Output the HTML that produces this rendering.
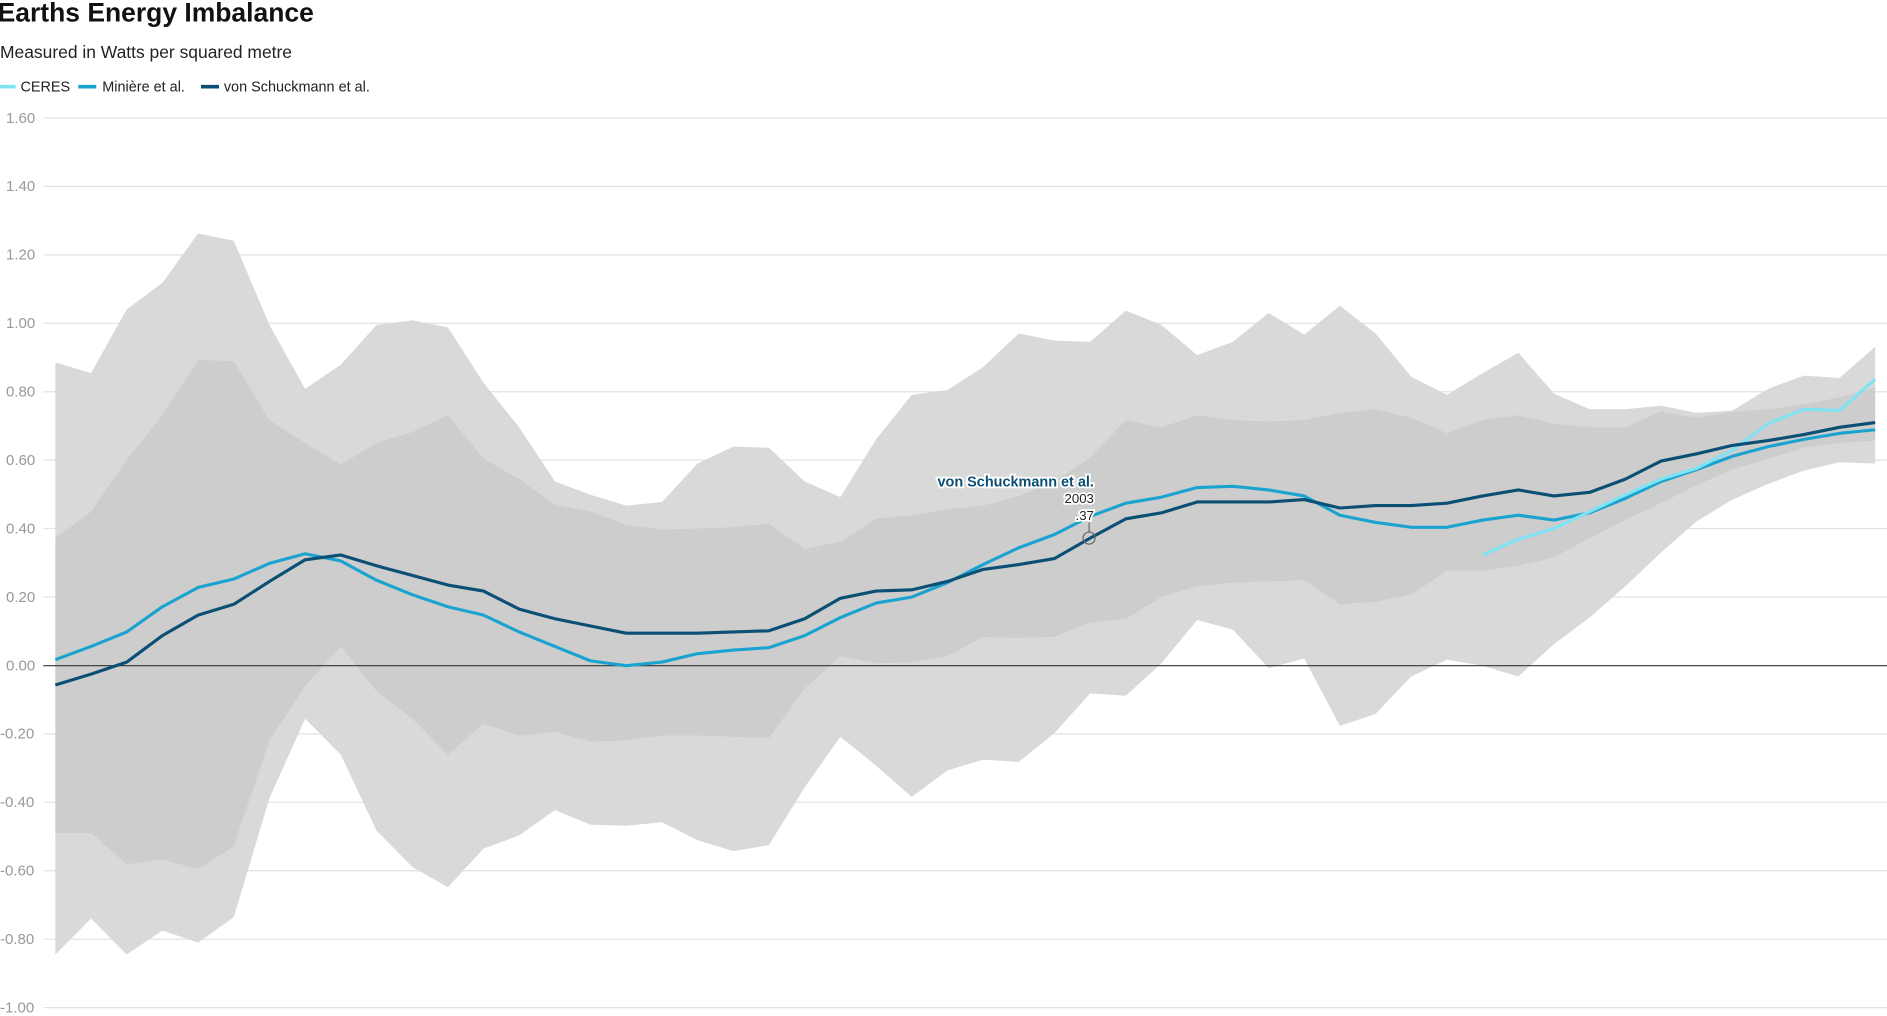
<!DOCTYPE html>
<html><head><meta charset="utf-8"><style>
html,body{margin:0;padding:0;background:#fff;}
svg{display:block;font-family:"Liberation Sans",Arial,sans-serif;}
</style></head><body>
<svg id="c" width="1887" height="1016" viewBox="0 0 1568 844" preserveAspectRatio="none" xmlns="http://www.w3.org/2000/svg">
<g id="grid"></g>
<g id="bands"></g>
<line x1="36" x2="1568" y1="553" y2="553" stroke="#333" stroke-width="1"/>
<g id="lines"></g>
<text x="-2" y="18" font-size="22" font-weight="bold" fill="#111">Earths Energy Imbalance</text>
<text x="0" y="48" font-size="14.5" fill="#222">Measured in Watts per squared metre</text>
<line x1="0" x2="13" y1="72" y2="72" stroke="#7fe3f3" stroke-width="3"/>
<text x="17" y="76" font-size="12" fill="#222">CERES</text>
<line x1="65" x2="80" y1="72" y2="72" stroke="#1ba3d0" stroke-width="3"/>
<text x="85" y="76" font-size="12" fill="#222">Minière et al.</text>
<line x1="167" x2="182" y1="72" y2="72" stroke="#0b4f75" stroke-width="3"/>
<text x="186" y="76" font-size="12" fill="#222">von Schuckmann et al.</text>
<text x="909" y="404" font-size="12" font-weight="bold" fill="#0b4f75" text-anchor="end" stroke="#fff" stroke-width="3" paint-order="stroke">von Schuckmann et al.</text>
<text x="909" y="418" font-size="11" fill="#222" text-anchor="end" stroke="#fff" stroke-width="3" paint-order="stroke">2003</text>
<text x="909" y="432" font-size="11" fill="#222" text-anchor="end" stroke="#fff" stroke-width="3" paint-order="stroke">.37</text>
<line x1="905" x2="905" y1="434" y2="442" stroke="#666"/>
<circle cx="905" cy="447" r="5" fill="none" stroke="#666"/>
</svg>
<script>
var NS="http://www.w3.org/2000/svg";
function X(i){return 46+29.65*i;}
var oT=[301,310,257,235,194,200,270,323,303,270,266,272,318,355,400,411,420,417,385,371,372,400,413,365,328,324,305,277,283,284,258,270,295,284,260,278,254,277,313,328,310,293,327,340,340,337,343,341,323,312,314,288];
var oB=[793,763,793,773,783,762,663,597,627,690,720,737,705,694,673,685,686,683,698,707,702,654,612,636,662,640,631,633,609,576,578,551,515,523,555,547,603,593,562,548,553,562,535,513,487,459,433,415,402,391,384,385];
var iT=[447,425,382,345,299,300,349,368,386,368,359,345,381,398,419,425,436,440,439,438,435,456,450,431,428,423,420,412,400,380,349,355,345,349,350,349,343,340,347,360,349,345,352,355,355,342,347,342,340,336,330,322];
var iB=[692,692,718,714,722,703,615,570,537,574,597,627,601,611,608,616,615,611,611,612,613,572,545,551,550,545,529,530,529,517,514,496,487,484,483,482,502,500,494,474,474,470,463,447,432,418,403,390,381,372,368,366];
var vS=[569,560,550,528,511,502,483,465,461,470,478,486,491,506,514,520,526,526,526,525,524,514,497,491,490,483,473,469,464,447,431,426,417,417,417,415,422,420,420,418,412,407,412,409,398,383,377,370,366,361,355,351];
var mi=[548,537,525,504,488,481,468,460,466,482,494,504,511,525,537,549,553,550,543,540,538,528,513,501,496,484,469,455,444,429,418,413,405,404,407,412,428,434,438,438,432,428,432,426,414,400,390,379,371,365,360,357];
var ce=[461,448,439,425,411,398,389,374,352,340,341,315];
function el(t,a,p){var e=document.createElementNS(NS,t);for(var k in a)e.setAttribute(k,a[k]);document.getElementById(p).appendChild(e);}
var labels=["1.60","1.40","1.20","1.00","0.80","0.60","0.40","0.20","0.00","-0.20","-0.40","-0.60","-0.80","-1.00"];
for(var j=0;j<14;j++){var y=98+j*56.85;
 if(j!=8)el("line",{x1:36,x2:1568,y1:y,y2:y,stroke:"#e2e2e2","stroke-width":1},"grid");
 var t=document.createElementNS(NS,"text");t.setAttribute("x",j>=9?0:5);t.setAttribute("y",y+4);t.setAttribute("font-size","12.5");t.setAttribute("fill","#999");t.textContent=labels[j];document.getElementById("grid").appendChild(t);}
function band(T,B,f){var p=[];for(var i=0;i<T.length;i++)p.push(X(i)+","+T[i]);for(var i=B.length-1;i>=0;i--)p.push(X(i)+","+B[i]);el("polygon",{points:p.join(" "),fill:f},"bands");}
band(oT,oB,"#d9d9d9");band(iT,iB,"#cdcdcd");
function line(a,off,c){var p=[];for(var i=0;i<a.length;i++)p.push(X(i+off)+","+a[i]);el("polyline",{points:p.join(" "),fill:"none",stroke:c,"stroke-width":2.6,"stroke-linejoin":"round"},"lines");}
line(mi,0,"#1ba3d0");line(ce,40,"#7fe3f3");line(vS,0,"#0b4f75");
</script>
</body></html>
